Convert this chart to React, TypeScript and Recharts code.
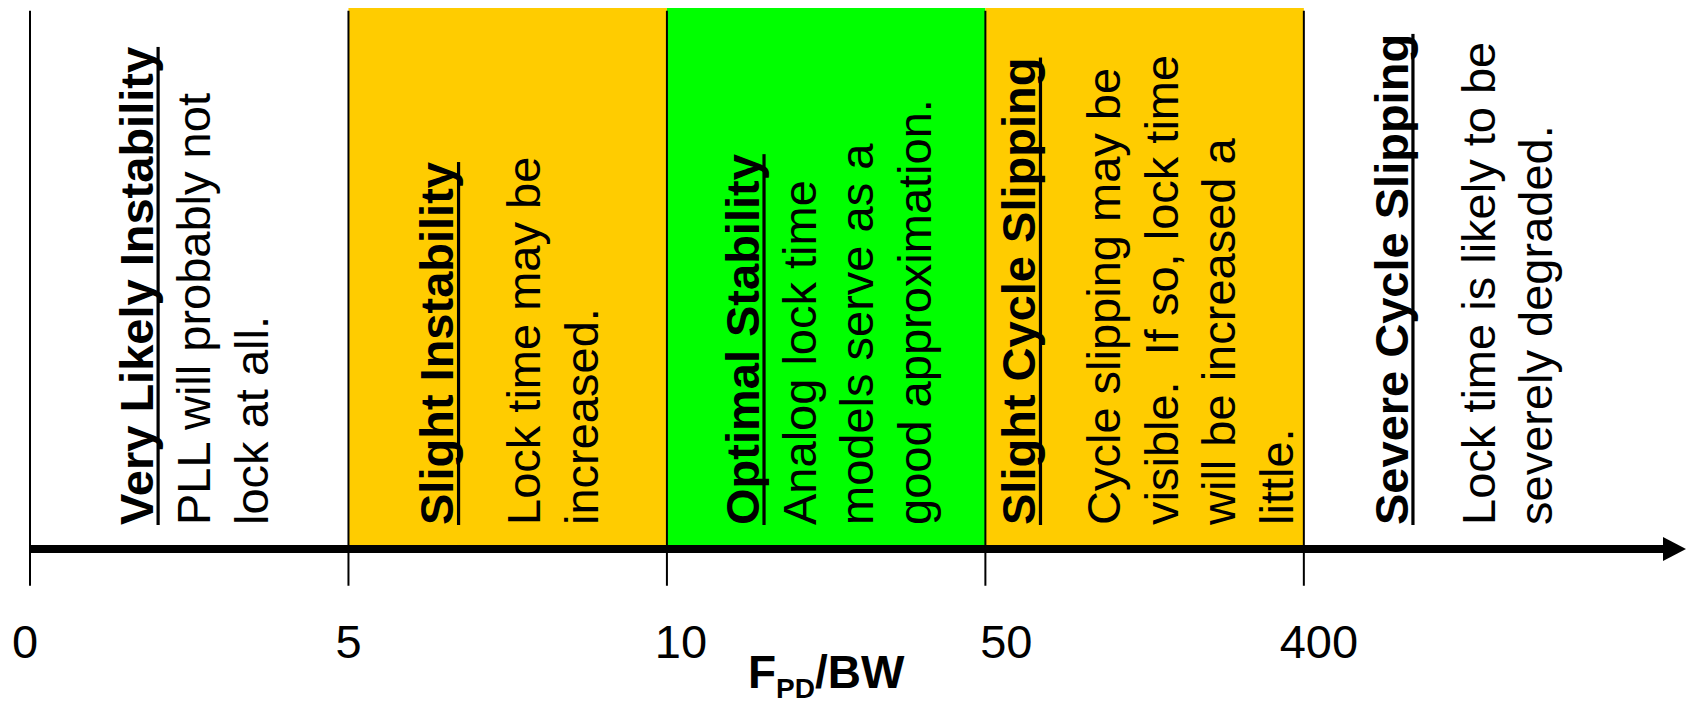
import React, { useLayoutEffect, useRef, useState } from "react";
import {
  ComposedChart,
  XAxis,
  YAxis,
  ReferenceArea,
  ReferenceLine,
  ReferenceDot,
} from "recharts";

// ---- data ----
const TICK_VALUES = [0, 1, 2, 3, 4];
const TICK_LABELS = ["0", "5", "10", "50", "400"];
const X_MAX = 5.2;
const REGION_START = [0, 1, 2, 3, 4];
const REGION_END = [1, 2, 3, 4, 5.2];
const REGION_TITLES = [
  "Very Likely Instability",
  "Slight Instability",
  "Optimal Stability",
  "Slight Cycle Slipping",
  "Severe Cycle Slipping",
];
const REGION_BODIES = [
  ["PLL will probably not", "lock at all."],
  ["Lock time may be", "increased."],
  ["Analog lock time", "models serve as a", "good approximation."],
  ["Cycle slipping may be", "visible.  If so, lock time", "will be increased a", "little."],
  ["Lock time is likely to be", "severely degraded."],
];
const AXIS_LABEL_MAIN = "F";
const AXIS_LABEL_SUB = "PD";
const AXIS_LABEL_REST = "/BW";

// ---- styles / layout ----
const REGION_FILLS = ["none", "#FFCC00", "#00FF00", "#FFCC00", "none"];
const TITLE_OFFSET = [123, 105, 92, 50, 104];
const BODY_GAP = [57, 87, 57, 85, 87];
const LINE_PITCH = 57.5;
const TEXT_BOTTOM_INSET = 24;
const TICK_DX = [-5, 0, 14, 21, 15];
const FONT = "'Liberation Sans', Arial, sans-serif";
const FS = 47;
const TICK_TOP = 0.995;
const TICK_BOTTOM = -0.068;

const UnderlinedTitle = ({ x, y, text }: { x: number; y: number; text: string }) => {
  const ref = useRef<SVGTextElement | null>(null);
  const [len, setLen] = useState(0);
  useLayoutEffect(() => {
    if (ref.current) setLen(ref.current.getComputedTextLength());
  }, [text]);
  return (
    <g transform={`translate(${x},${y}) rotate(-90)`}>
      <text ref={ref} x={0} y={0} fontWeight="bold" style={{ whiteSpace: "pre" }}>
        {text}
      </text>
      {len > 0 && <rect x={0} y={3.5} width={len} height={3.2} fill="#000" />}
    </g>
  );
};

const RegionText = (props: any) => {
  const { viewBox, idx } = props;
  if (!viewBox) return null;
  const x0 = viewBox.x;
  const yb = viewBox.y + viewBox.height - TEXT_BOTTOM_INSET;
  const titleX = x0 + TITLE_OFFSET[idx];
  const lines = REGION_BODIES[idx];
  return (
    <g fontFamily={FONT} fontSize={FS} fill="#000">
      <UnderlinedTitle x={titleX} y={yb} text={REGION_TITLES[idx]} />
      {lines.map((l, j) => (
        <text
          key={j}
          transform={`translate(${titleX + BODY_GAP[idx] + j * LINE_PITCH},${yb}) rotate(-90)`}
          style={{ whiteSpace: "pre" }}
        >
          {l}
        </text>
      ))}
    </g>
  );
};

const AxisArrow = (props: any) => {
  const { x1, y1, x2 } = props;
  const head = 23;
  return (
    <g>
      <line x1={x1} y1={y1} x2={x2 - head + 1} y2={y1} stroke="#000" strokeWidth={8} />
      <polygon points={`${x2 - head},${y1 - 12} ${x2},${y1} ${x2 - head},${y1 + 12}`} fill="#000" />
    </g>
  );
};

const Tick = (props: any) => {
  const { x, y, payload, index } = props;
  return (
    <text
      x={x + TICK_DX[index]}
      y={y + 109}
      textAnchor="middle"
      fontFamily={FONT}
      fontSize={FS}
      fill="#000"
    >
      {TICK_LABELS[TICK_VALUES.indexOf(payload.value)]}
    </text>
  );
};

const AxisTitle = (props: any) => {
  const { cx, cy } = props;
  return (
    <text
      x={cx}
      y={cy + 139}
      textAnchor="middle"
      fontFamily={FONT}
      fontWeight="bold"
      fontSize={46}
      fill="#000"
    >
      {AXIS_LABEL_MAIN}
      <tspan fontSize={28} dy={10}>
        {AXIS_LABEL_SUB}
      </tspan>
      <tspan dy={-10}>{AXIS_LABEL_REST}</tspan>
    </text>
  );
};

export default function App() {
  return (
    <div style={{ position: "absolute", left: 0, top: 0, background: "#fff" }}>
      <ComposedChart
        width={1686}
        height={706}
        data={[]}
        margin={{ top: 8, right: 0, left: 30, bottom: 0 }}
      >
        <XAxis
          type="number"
          dataKey="x"
          domain={[0, X_MAX]}
          ticks={TICK_VALUES}
          interval={0}
          axisLine={false}
          tickLine={false}
          tickSize={0}
          tickMargin={0}
          height={157}
          tick={<Tick />}
          allowDataOverflow
        />
        <YAxis type="number" domain={[0, 1]} hide width={0} allowDataOverflow />
        {REGION_START.map((s, i) => (
          <ReferenceArea
            key={`a${i}`}
            x1={s}
            x2={REGION_END[i]}
            y1={0}
            y2={1}
            fill={REGION_FILLS[i]}
            fillOpacity={1}
            stroke="none"
            ifOverflow="visible"
            label={(p: any) => <RegionText {...p} idx={i} />}
          />
        ))}
        {TICK_VALUES.map((v) => (
          <ReferenceLine
            key={`t${v}`}
            segment={[
              { x: v, y: TICK_TOP },
              { x: v, y: TICK_BOTTOM },
            ]}
            stroke="#000"
            strokeWidth={2}
            ifOverflow="visible"
          />
        ))}
        <ReferenceLine
          segment={[
            { x: 0, y: 0 },
            { x: X_MAX, y: 0 },
          ]}
          ifOverflow="visible"
          shape={(p: any) => <AxisArrow {...p} />}
        />
        <ReferenceDot
          x={2.5}
          y={0}
          r={0}
          ifOverflow="visible"
          shape={(p: any) => <AxisTitle {...p} />}
        />
      </ComposedChart>
    </div>
  );
}
